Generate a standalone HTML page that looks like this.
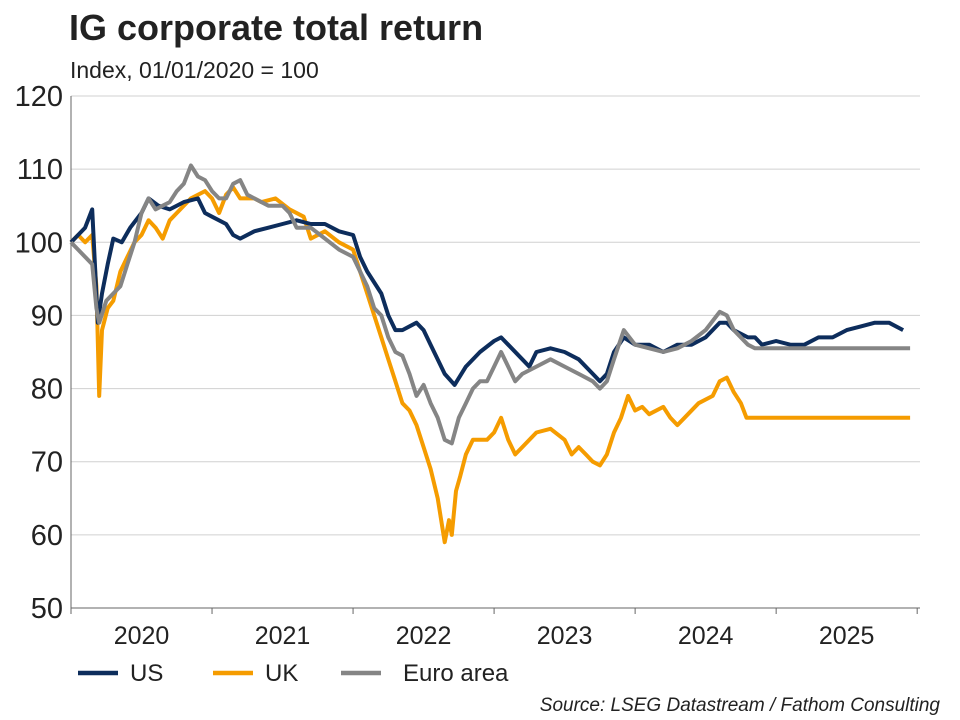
<!DOCTYPE html>
<html><head><meta charset="utf-8"><style>
body{margin:0;background:#fff;}
svg{display:block;font-family:"Liberation Sans",Arial,sans-serif;}
</style></head><body>
<svg id="c" width="960" height="720">
<text x="69" y="40" font-size="36" font-weight="bold" fill="#222">IG corporate total return</text>
<text x="70" y="78" font-size="23" fill="#222">Index, 01/01/2020 = 100</text>
<g id="grid"></g><g id="lines"></g>
<g>
<line x1="78" y1="673" x2="118" y2="673" stroke="#0d2d5c" stroke-width="4.5"/>
<text x="130" y="681" font-size="24" fill="#222">US</text>
<line x1="213" y1="673" x2="253" y2="673" stroke="#f59c00" stroke-width="4.5"/>
<text x="265" y="681" font-size="24" fill="#222">UK</text>
<line x1="341" y1="673" x2="381" y2="673" stroke="#858585" stroke-width="4.5"/>
<text x="403" y="681" font-size="24" fill="#222">Euro area</text>
</g>
<text x="940" y="711" font-size="19" font-style="italic" text-anchor="end" fill="#222">Source: LSEG Datastream / Fathom Consulting</text>
</svg>
<script>
const yTicks=[50,60,70,80,90,100,110,120];
const years=[2020,2021,2022,2023,2024,2025];
const usT=[2020.0,2020.05,2020.1,2020.15,2020.19,2020.22,2020.26,2020.3,2020.36,2020.42,2020.5,2020.55,2020.62,2020.7,2020.8,2020.9,2020.95,2021.0,2021.1,2021.15,2021.2,2021.3,2021.4,2021.5,2021.6,2021.7,2021.8,2021.9,2022.0,2022.05,2022.1,2022.2,2022.25,2022.3,2022.35,2022.45,2022.5,2022.55,2022.65,2022.72,2022.8,2022.9,2023.0,2023.05,2023.1,2023.2,2023.25,2023.3,2023.4,2023.5,2023.6,2023.7,2023.75,2023.8,2023.85,2023.92,2024.0,2024.1,2024.2,2024.3,2024.4,2024.5,2024.6,2024.65,2024.7,2024.8,2024.85,2024.9,2025.0,2025.1,2025.2,2025.3,2025.4,2025.5,2025.6,2025.7,2025.8,2025.9];
const usV=[100,101,102,104.5,89,93,97,100.5,100,102,104,106,105,104.5,105.5,106,104,103.5,102.5,101,100.5,101.5,102,102.5,103,102.5,102.5,101.5,101,98,96,93,90,88,88,89,88,86,82,80.5,83,85,86.5,87,86,84,83,85,85.5,85,84,82,81,82,85,87,86,86,85,86,86,87,89,89,88,87,87,86,86.5,86,86,87,87,88,88.5,89,89,88];
const ukT=[2020.0,2020.05,2020.1,2020.15,2020.18,2020.2,2020.22,2020.26,2020.3,2020.35,2020.4,2020.45,2020.5,2020.55,2020.6,2020.65,2020.7,2020.75,2020.85,2020.95,2021.0,2021.05,2021.1,2021.15,2021.2,2021.3,2021.35,2021.45,2021.55,2021.65,2021.7,2021.8,2021.9,2022.0,2022.05,2022.1,2022.15,2022.2,2022.25,2022.3,2022.35,2022.4,2022.45,2022.5,2022.55,2022.6,2022.65,2022.68,2022.7,2022.73,2022.76,2022.8,2022.85,2022.95,2023.0,2023.05,2023.1,2023.15,2023.2,2023.3,2023.4,2023.5,2023.55,2023.6,2023.65,2023.7,2023.75,2023.8,2023.85,2023.9,2023.95,2024.0,2024.05,2024.1,2024.2,2024.25,2024.3,2024.35,2024.45,2024.55,2024.6,2024.65,2024.7,2024.75,2024.79,2024.85,2025.95];
const ukV=[100,101,100,101,94,79,88,91,92,96,98,100,101,103,102,100.5,103,104,106,107,106,104,106.5,107.5,106,106,105.5,106,104.5,103.5,100.5,101.5,100,99,96,93,90,87,84,81,78,77,75,72,69,65,59,62,60,66,68,71,73,73,74,76,73,71,72,74,74.5,73,71,72,71,70,69.5,71,74,76,79,77,77.5,76.5,77.5,76,75,76,78,79,81,81.5,79.5,78,76,76,76];
const euT=[2020.0,2020.05,2020.1,2020.15,2020.18,2020.2,2020.25,2020.3,2020.35,2020.4,2020.45,2020.5,2020.55,2020.6,2020.65,2020.7,2020.75,2020.8,2020.85,2020.9,2020.95,2021.0,2021.05,2021.1,2021.15,2021.2,2021.25,2021.3,2021.4,2021.5,2021.55,2021.6,2021.7,2021.8,2021.9,2022.0,2022.05,2022.1,2022.15,2022.2,2022.25,2022.3,2022.35,2022.4,2022.45,2022.5,2022.55,2022.6,2022.65,2022.7,2022.75,2022.8,2022.85,2022.9,2022.95,2023.0,2023.05,2023.1,2023.15,2023.2,2023.3,2023.4,2023.5,2023.6,2023.7,2023.75,2023.8,2023.85,2023.92,2024.0,2024.1,2024.2,2024.3,2024.4,2024.5,2024.6,2024.65,2024.7,2024.8,2024.85,2025.95];
const euV=[100,99,98,97,91,89,92,93,94,97,100,104,106,104.5,105,105.5,107,108,110.5,109,108.5,107,106,106,108,108.5,106.5,106,105,105,104,102,102,100.5,99,98,96,94,91,90,87,85,84.5,82,79,80.5,78,76,73,72.5,76,78,80,81,81,83,85,83,81,82,83,84,83,82,81,80,81,84,88,86,85.5,85,85.5,86.5,88,90.5,90,88,86,85.5,85.5];
const NS="http://www.w3.org/2000/svg";
const L=71,R=920,T=96,B=608,x0=2020,x1=2026.02;
const xs=t=>L+(t-x0)/(x1-x0)*(R-L);
const ys=v=>B-(v-50)/70*(B-T);
const g=document.getElementById('grid'),lg=document.getElementById('lines');
function mk(tag,a,p){const e=document.createElementNS(NS,tag);for(const k in a)e.setAttribute(k,a[k]);p.appendChild(e);return e;}
yTicks.forEach(v=>{
 if(v>50){const l=mk('line',{x1:L,x2:R,y1:ys(v),y2:ys(v),stroke:'#d0d0d0','stroke-width':1},g);
 
 }
 const t=mk('text',{x:63,y:ys(v)+10,'font-size':29,'text-anchor':'end',fill:'#222'},g);t.textContent=v;
 
 
});
mk('line',{x1:L,x2:L,y1:T,y2:B,stroke:'#666','stroke-width':1},g);
mk('line',{x1:L,x2:R,y1:B,y2:B,stroke:'#666','stroke-width':1},g);
for(let y=2020;y<=2026;y++){mk('line',{x1:xs(y),x2:xs(y),y1:B,y2:B+6,stroke:'#666'},g);}
years.forEach(y=>{const t=mk('text',{x:xs(y+0.5),y:644,'font-size':25,'text-anchor':'middle',fill:'#222'},g);t.textContent=y;
 
 });
function line(T_,V,c,n){const d=T_.map((t,i)=>(i?'L':'M')+xs(t).toFixed(1)+','+ys(V[i]).toFixed(1)).join('');
 const p=mk('path',{d:d,fill:'none',stroke:c,'stroke-width':4,'stroke-linejoin':'round'},lg);
 
 }
line(ukT,ukV,'#f59c00','series-uk');
line(usT,usV,'#0d2d5c','series-us');
line(euT,euV,'#858585','series-euro-area');
</script>
</body></html>
